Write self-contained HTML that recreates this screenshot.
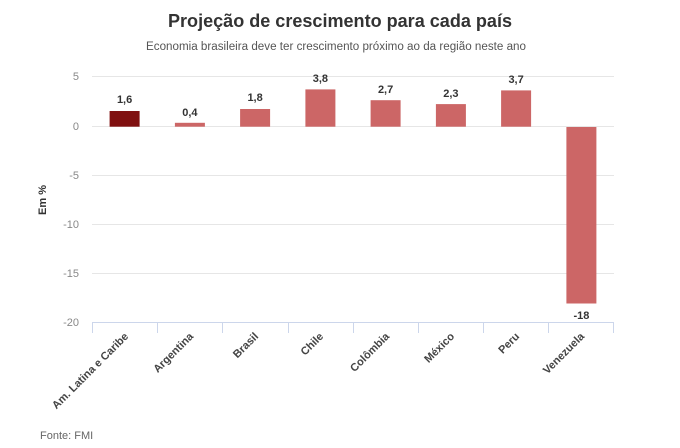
<!DOCTYPE html>
<html><head><meta charset="utf-8"><style>
html,body{margin:0;padding:0;background:#fff;}
svg{display:block;font-family:"Liberation Sans",Arial,sans-serif;}
</style></head><body>
<svg width="680" height="448" viewBox="0 0 680 448" xmlns="http://www.w3.org/2000/svg">
<rect width="680" height="448" fill="#fff"/>
<text x="340" y="27" text-anchor="middle" font-size="18" font-weight="bold" fill="#333" textLength="344" lengthAdjust="spacingAndGlyphs">Projeção de crescimento para cada país</text>
<text x="336" y="50" text-anchor="middle" font-size="11.5" fill="#555" textLength="380" lengthAdjust="spacingAndGlyphs">Economia brasileira deve ter crescimento próximo ao da região neste ano</text>
<g stroke="#e6e6e6" stroke-width="1">
<line x1="92" y1="76.5" x2="614" y2="76.5"/>
<line x1="92" y1="126.5" x2="614" y2="126.5"/>
<line x1="92" y1="175.5" x2="614" y2="175.5"/>
<line x1="92" y1="224.5" x2="614" y2="224.5"/>
<line x1="92" y1="273.5" x2="614" y2="273.5"/>
</g>
<g stroke="#ccd6eb" stroke-width="1">
<line x1="92" y1="322.5" x2="614" y2="322.5"/>
<line x1="92.5" y1="322" x2="92.5" y2="333"/>
<line x1="157.5" y1="322" x2="157.5" y2="333"/>
<line x1="222.5" y1="322" x2="222.5" y2="333"/>
<line x1="288.5" y1="322" x2="288.5" y2="333"/>
<line x1="353.5" y1="322" x2="353.5" y2="333"/>
<line x1="418.5" y1="322" x2="418.5" y2="333"/>
<line x1="483.5" y1="322" x2="483.5" y2="333"/>
<line x1="548.5" y1="322" x2="548.5" y2="333"/>
<line x1="613.5" y1="322" x2="613.5" y2="333"/>
</g>
<g font-size="11" fill="#888" text-anchor="end">
<text x="79" y="80">5</text>
<text x="79" y="130">0</text>
<text x="79" y="179">-5</text>
<text x="79" y="228">-10</text>
<text x="79" y="277">-15</text>
<text x="79" y="326">-20</text>
</g>
<text transform="translate(46,200) rotate(-90)" text-anchor="middle" font-size="11" font-weight="bold" fill="#333">Em %</text>
<rect x="109.6" y="111" width="30" height="15.7" fill="#801010"/>
<rect x="174.9" y="122.8" width="30" height="3.9" fill="#cc6666"/>
<rect x="240.1" y="109" width="30" height="17.7" fill="#cc6666"/>
<rect x="305.4" y="89.4" width="30" height="37.3" fill="#cc6666"/>
<rect x="370.6" y="100.2" width="30" height="26.5" fill="#cc6666"/>
<rect x="435.9" y="104.1" width="30" height="22.6" fill="#cc6666"/>
<rect x="501.1" y="90.4" width="30" height="36.3" fill="#cc6666"/>
<rect x="566.4" y="127" width="30" height="176.5" fill="#cc6666"/>
<g font-size="11" font-weight="bold" fill="#333" text-anchor="middle">
<text x="124.6" y="103">1,6</text>
<text x="189.9" y="116">0,4</text>
<text x="255.1" y="101">1,8</text>
<text x="320.4" y="82">3,8</text>
<text x="385.6" y="93">2,7</text>
<text x="450.9" y="97">2,3</text>
<text x="516.1" y="83">3,7</text>
<text x="581.4" y="319">-18</text>
</g>
<g font-size="11" font-weight="bold" fill="#444" text-anchor="end">
<text transform="translate(129,337) rotate(-45)">Am. Latina e Caribe</text>
<text transform="translate(194,337) rotate(-45)">Argentina</text>
<text transform="translate(259,337) rotate(-45)">Brasil</text>
<text transform="translate(324,337) rotate(-45)">Chile</text>
<text transform="translate(390,337) rotate(-45)">Colômbia</text>
<text transform="translate(455,337) rotate(-45)">México</text>
<text transform="translate(520,337) rotate(-45)">Peru</text>
<text transform="translate(585,337) rotate(-45)">Venezuela</text>
</g>
<text x="40" y="439" font-size="11" fill="#666">Fonte: FMI</text>
</svg>
</body></html>
